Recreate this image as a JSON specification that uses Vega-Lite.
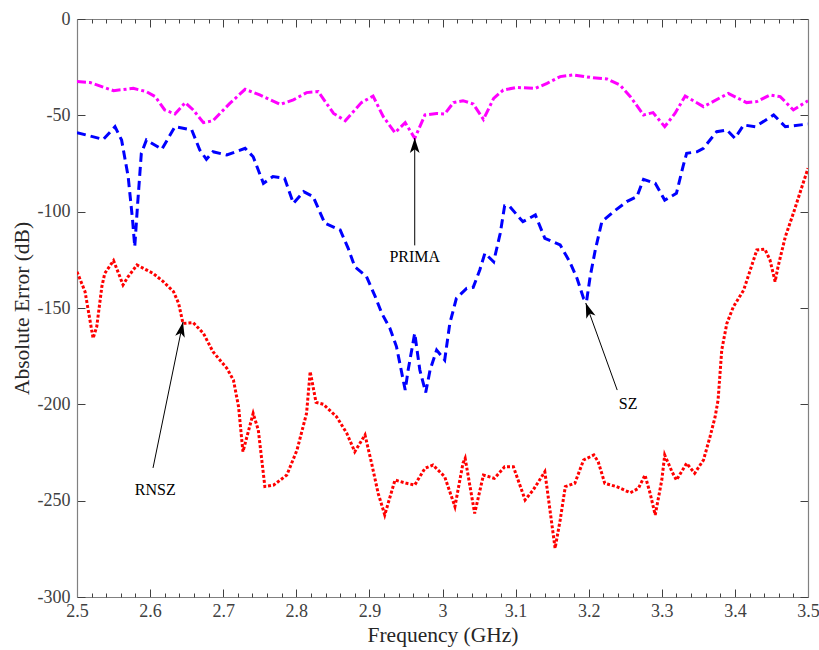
{
  "$schema": "https://vega.github.io/schema/vega-lite/v6.json",
  "width": 731,
  "height": 578,
  "autosize": {"type": "none"},
  "padding": {"left": 77, "top": 19, "right": 11, "bottom": 53},
  "background": "white",
  "config": {
    "view": {"stroke": null},
    "axis": {
      "grid": false,
      "labelFont": "Liberation Serif",
      "labelFontSize": 18,
      "labelColor": "#404040",
      "titleFont": "Liberation Serif",
      "titleFontSize": 21.5,
      "titleFontWeight": "normal",
      "titleColor": "#262626",
      "domainColor": "#808080",
      "tickColor": "#404040",
      "domainWidth": 1.2,
      "tickWidth": 1
    }
  },
  "datasets": {
    "curves": [
      {"s":"PRIMA","f":2.500,"v":-32.5},{"s":"PRIMA","f":2.518,"v":-33},{"s":"PRIMA","f":2.550,"v":-37.2},{"s":"PRIMA","f":2.577,"v":-36},{"s":"PRIMA","f":2.595,"v":-37.7},{"s":"PRIMA","f":2.607,"v":-40.3},{"s":"PRIMA","f":2.620,"v":-47.2},{"s":"PRIMA","f":2.634,"v":-49.3},{"s":"PRIMA","f":2.648,"v":-43.4},{"s":"PRIMA","f":2.659,"v":-47.2},{"s":"PRIMA","f":2.673,"v":-53.8},{"s":"PRIMA","f":2.686,"v":-52.8},{"s":"PRIMA","f":2.709,"v":-43.8},{"s":"PRIMA","f":2.730,"v":-36.5},{"s":"PRIMA","f":2.750,"v":-39.4},{"s":"PRIMA","f":2.778,"v":-44.3},{"s":"PRIMA","f":2.796,"v":-42},{"s":"PRIMA","f":2.814,"v":-38.2},{"s":"PRIMA","f":2.830,"v":-37.7},{"s":"PRIMA","f":2.851,"v":-49},{"s":"PRIMA","f":2.867,"v":-52.8},{"s":"PRIMA","f":2.889,"v":-43.4},{"s":"PRIMA","f":2.905,"v":-40},{"s":"PRIMA","f":2.919,"v":-50.7},{"s":"PRIMA","f":2.935,"v":-59},{"s":"PRIMA","f":2.949,"v":-53.8},{"s":"PRIMA","f":2.962,"v":-61.9},{"s":"PRIMA","f":2.976,"v":-49.8},{"s":"PRIMA","f":2.992,"v":-49},{"s":"PRIMA","f":3.003,"v":-49.3},{"s":"PRIMA","f":3.015,"v":-43.4},{"s":"PRIMA","f":3.028,"v":-42.4},{"s":"PRIMA","f":3.042,"v":-44.1},{"s":"PRIMA","f":3.056,"v":-52.1},{"s":"PRIMA","f":3.070,"v":-41.2},{"s":"PRIMA","f":3.083,"v":-36.9},{"s":"PRIMA","f":3.101,"v":-35.5},{"s":"PRIMA","f":3.127,"v":-36},{"s":"PRIMA","f":3.143,"v":-33.4},{"s":"PRIMA","f":3.161,"v":-29.9},{"s":"PRIMA","f":3.179,"v":-29},{"s":"PRIMA","f":3.202,"v":-30.3},{"s":"PRIMA","f":3.225,"v":-31.1},{"s":"PRIMA","f":3.243,"v":-34.3},{"s":"PRIMA","f":3.257,"v":-40.3},{"s":"PRIMA","f":3.275,"v":-49.8},{"s":"PRIMA","f":3.288,"v":-48.6},{"s":"PRIMA","f":3.304,"v":-55.9},{"s":"PRIMA","f":3.318,"v":-49},{"s":"PRIMA","f":3.332,"v":-40},{"s":"PRIMA","f":3.357,"v":-45.5},{"s":"PRIMA","f":3.370,"v":-42.9},{"s":"PRIMA","f":3.391,"v":-38.6},{"s":"PRIMA","f":3.416,"v":-43.4},{"s":"PRIMA","f":3.430,"v":-42.9},{"s":"PRIMA","f":3.448,"v":-39.4},{"s":"PRIMA","f":3.462,"v":-40.3},{"s":"PRIMA","f":3.480,"v":-47.2},{"s":"PRIMA","f":3.500,"v":-42.4},
      {"s":"SZ","f":2.500,"v":-59},{"s":"SZ","f":2.536,"v":-62.5},{"s":"SZ","f":2.552,"v":-55.9},{"s":"SZ","f":2.561,"v":-62.8},{"s":"SZ","f":2.570,"v":-81.8},{"s":"SZ","f":2.576,"v":-104.3},{"s":"SZ","f":2.579,"v":-118.2},{"s":"SZ","f":2.583,"v":-95.7},{"s":"SZ","f":2.588,"v":-69.7},{"s":"SZ","f":2.595,"v":-62.8},{"s":"SZ","f":2.616,"v":-67.6},{"s":"SZ","f":2.634,"v":-55.9},{"s":"SZ","f":2.657,"v":-57.6},{"s":"SZ","f":2.668,"v":-68},{"s":"SZ","f":2.677,"v":-72.8},{"s":"SZ","f":2.686,"v":-68.9},{"s":"SZ","f":2.705,"v":-70.6},{"s":"SZ","f":2.730,"v":-67.1},{"s":"SZ","f":2.741,"v":-71.5},{"s":"SZ","f":2.755,"v":-85.3},{"s":"SZ","f":2.768,"v":-81.8},{"s":"SZ","f":2.784,"v":-82.7},{"s":"SZ","f":2.796,"v":-95.7},{"s":"SZ","f":2.810,"v":-89.6},{"s":"SZ","f":2.823,"v":-92.2},{"s":"SZ","f":2.839,"v":-106},{"s":"SZ","f":2.860,"v":-109.5},{"s":"SZ","f":2.871,"v":-119},{"s":"SZ","f":2.880,"v":-128.6},{"s":"SZ","f":2.896,"v":-133.7},{"s":"SZ","f":2.908,"v":-144.1},{"s":"SZ","f":2.917,"v":-152.8},{"s":"SZ","f":2.928,"v":-160.5},{"s":"SZ","f":2.937,"v":-170},{"s":"SZ","f":2.949,"v":-192.6},{"s":"SZ","f":2.953,"v":-182.2},{"s":"SZ","f":2.962,"v":-163.1},{"s":"SZ","f":2.969,"v":-182.2},{"s":"SZ","f":2.977,"v":-193.9},{"s":"SZ","f":2.983,"v":-182.2},{"s":"SZ","f":2.992,"v":-171.8},{"s":"SZ","f":3.003,"v":-177},{"s":"SZ","f":3.010,"v":-158},{"s":"SZ","f":3.019,"v":-145},{"s":"SZ","f":3.033,"v":-139.8},{"s":"SZ","f":3.042,"v":-139.3},{"s":"SZ","f":3.051,"v":-130.3},{"s":"SZ","f":3.058,"v":-121.6},{"s":"SZ","f":3.070,"v":-126},{"s":"SZ","f":3.079,"v":-111.2},{"s":"SZ","f":3.085,"v":-97},{"s":"SZ","f":3.092,"v":-97.4},{"s":"SZ","f":3.110,"v":-105.2},{"s":"SZ","f":3.127,"v":-101.7},{"s":"SZ","f":3.140,"v":-113.8},{"s":"SZ","f":3.161,"v":-117.3},{"s":"SZ","f":3.174,"v":-126},{"s":"SZ","f":3.184,"v":-134.6},{"s":"SZ","f":3.193,"v":-145},{"s":"SZ","f":3.197,"v":-146.7},{"s":"SZ","f":3.202,"v":-133.7},{"s":"SZ","f":3.209,"v":-119.9},{"s":"SZ","f":3.218,"v":-105.2},{"s":"SZ","f":3.234,"v":-100},{"s":"SZ","f":3.252,"v":-94.8},{"s":"SZ","f":3.266,"v":-92.2},{"s":"SZ","f":3.275,"v":-83.2},{"s":"SZ","f":3.291,"v":-85.3},{"s":"SZ","f":3.304,"v":-94},{"s":"SZ","f":3.320,"v":-90.5},{"s":"SZ","f":3.329,"v":-76.6},{"s":"SZ","f":3.334,"v":-69.7},{"s":"SZ","f":3.348,"v":-68.9},{"s":"SZ","f":3.357,"v":-67.1},{"s":"SZ","f":3.375,"v":-58.5},{"s":"SZ","f":3.389,"v":-57.6},{"s":"SZ","f":3.400,"v":-61.9},{"s":"SZ","f":3.412,"v":-55},{"s":"SZ","f":3.428,"v":-55.9},{"s":"SZ","f":3.453,"v":-49.8},{"s":"SZ","f":3.469,"v":-55.9},{"s":"SZ","f":3.500,"v":-54.5},
      {"s":"RNSZ","f":2.500,"v":-131.2},{"s":"RNSZ","f":2.511,"v":-141.5},{"s":"RNSZ","f":2.522,"v":-165.7},{"s":"RNSZ","f":2.527,"v":-159.7},{"s":"RNSZ","f":2.534,"v":-138.9},{"s":"RNSZ","f":2.538,"v":-132},{"s":"RNSZ","f":2.550,"v":-125.4},{"s":"RNSZ","f":2.563,"v":-138},{"s":"RNSZ","f":2.570,"v":-133.7},{"s":"RNSZ","f":2.582,"v":-127.7},{"s":"RNSZ","f":2.604,"v":-132},{"s":"RNSZ","f":2.618,"v":-136.3},{"s":"RNSZ","f":2.632,"v":-141.5},{"s":"RNSZ","f":2.639,"v":-147.6},{"s":"RNSZ","f":2.645,"v":-158},{"s":"RNSZ","f":2.659,"v":-157.6},{"s":"RNSZ","f":2.673,"v":-163.2},{"s":"RNSZ","f":2.686,"v":-172.7},{"s":"RNSZ","f":2.705,"v":-181.3},{"s":"RNSZ","f":2.714,"v":-187.4},{"s":"RNSZ","f":2.721,"v":-201.2},{"s":"RNSZ","f":2.727,"v":-224.6},{"s":"RNSZ","f":2.741,"v":-204.7},{"s":"RNSZ","f":2.748,"v":-213.3},{"s":"RNSZ","f":2.757,"v":-242.7},{"s":"RNSZ","f":2.769,"v":-241.9},{"s":"RNSZ","f":2.787,"v":-236.7},{"s":"RNSZ","f":2.801,"v":-223.7},{"s":"RNSZ","f":2.814,"v":-204.7},{"s":"RNSZ","f":2.819,"v":-183},{"s":"RNSZ","f":2.827,"v":-199},{"s":"RNSZ","f":2.837,"v":-200},{"s":"RNSZ","f":2.855,"v":-206.4},{"s":"RNSZ","f":2.869,"v":-215},{"s":"RNSZ","f":2.880,"v":-224.6},{"s":"RNSZ","f":2.894,"v":-215.9},{"s":"RNSZ","f":2.903,"v":-230.6},{"s":"RNSZ","f":2.912,"v":-246.2},{"s":"RNSZ","f":2.921,"v":-257.4},{"s":"RNSZ","f":2.935,"v":-239.3},{"s":"RNSZ","f":2.951,"v":-241},{"s":"RNSZ","f":2.962,"v":-241.9},{"s":"RNSZ","f":2.976,"v":-233.2},{"s":"RNSZ","f":2.987,"v":-231.5},{"s":"RNSZ","f":3.003,"v":-237.6},{"s":"RNSZ","f":3.017,"v":-253.1},{"s":"RNSZ","f":3.028,"v":-230.6},{"s":"RNSZ","f":3.031,"v":-228},{"s":"RNSZ","f":3.044,"v":-256.6},{"s":"RNSZ","f":3.056,"v":-236.7},{"s":"RNSZ","f":3.071,"v":-238.4},{"s":"RNSZ","f":3.085,"v":-232.4},{"s":"RNSZ","f":3.097,"v":-232.4},{"s":"RNSZ","f":3.113,"v":-249.6},{"s":"RNSZ","f":3.124,"v":-244.5},{"s":"RNSZ","f":3.140,"v":-235},{"s":"RNSZ","f":3.147,"v":-254.8},{"s":"RNSZ","f":3.154,"v":-274.7},{"s":"RNSZ","f":3.161,"v":-260},{"s":"RNSZ","f":3.168,"v":-242.7},{"s":"RNSZ","f":3.181,"v":-241},{"s":"RNSZ","f":3.193,"v":-228.9},{"s":"RNSZ","f":3.207,"v":-226.3},{"s":"RNSZ","f":3.213,"v":-229.8},{"s":"RNSZ","f":3.222,"v":-241},{"s":"RNSZ","f":3.238,"v":-242.7},{"s":"RNSZ","f":3.257,"v":-245.9},{"s":"RNSZ","f":3.268,"v":-243.6},{"s":"RNSZ","f":3.277,"v":-236.7},{"s":"RNSZ","f":3.284,"v":-246.2},{"s":"RNSZ","f":3.291,"v":-257.4},{"s":"RNSZ","f":3.300,"v":-239.3},{"s":"RNSZ","f":3.304,"v":-226.3},{"s":"RNSZ","f":3.314,"v":-235},{"s":"RNSZ","f":3.320,"v":-239.3},{"s":"RNSZ","f":3.334,"v":-230.6},{"s":"RNSZ","f":3.345,"v":-235.8},{"s":"RNSZ","f":3.357,"v":-228.9},{"s":"RNSZ","f":3.366,"v":-216.8},{"s":"RNSZ","f":3.373,"v":-206.4},{"s":"RNSZ","f":3.377,"v":-197.7},{"s":"RNSZ","f":3.382,"v":-171.8},{"s":"RNSZ","f":3.389,"v":-158},{"s":"RNSZ","f":3.398,"v":-149.3},{"s":"RNSZ","f":3.412,"v":-140.7},{"s":"RNSZ","f":3.421,"v":-130.3},{"s":"RNSZ","f":3.430,"v":-119.9},{"s":"RNSZ","f":3.441,"v":-119.5},{"s":"RNSZ","f":3.448,"v":-125.1},{"s":"RNSZ","f":3.455,"v":-136.3},{"s":"RNSZ","f":3.459,"v":-128.6},{"s":"RNSZ","f":3.469,"v":-113},{"s":"RNSZ","f":3.480,"v":-100.8},{"s":"RNSZ","f":3.491,"v":-87.9},{"s":"RNSZ","f":3.500,"v":-77.5}
    ],
    "notes": [
      {"name":"PRIMA","f1":2.962,"v1":-117.5,"f2":2.962,"v2":-61.8,"tf":2.962,"tv":-123.5,"ang":0},
      {"name":"SZ","f1":3.239,"v1":-192.6,"f2":3.196,"v2":-147.4,"tf":3.254,"tv":-200,"ang":340},
      {"name":"RNSZ","f1":2.604,"v1":-233,"f2":2.645,"v2":-157.3,"tf":2.607,"tv":-244.5,"ang":11.6}
    ]
  },
  "resolve": {"axis": {"x": "independent", "y": "independent"}},
  "layer": [
    {
      "data": {"name": "curves"},
      "mark": {"type": "line", "strokeWidth": 3, "strokeCap": "butt", "clip": true},
      "encoding": {
        "x": {"field": "f", "type": "quantitative",
          "scale": {"domain": [2.5, 3.5], "nice": false, "zero": false},
          "axis": {"orient": "bottom", "title": "Frequency (GHz)",
            "values": [2.5, 2.6, 2.7, 2.8, 2.9, 3.0, 3.1, 3.2, 3.3, 3.4, 3.5],
            "labelExpr": "toString(datum.value)", "tickSize": -8, "labelPadding": 13,
            "labelFont": "Liberation Serif", "labelFontSize": 18,
            "titlePadding": 4, "labelFlush": false}},
        "y": {"field": "v", "type": "quantitative",
          "scale": {"domain": [-300, 0], "nice": false, "zero": false},
          "axis": {"orient": "left", "title": "Absolute Error (dB)",
            "values": [0, -50, -100, -150, -200, -250, -300],
            "labelExpr": "toString(datum.value)", "tickSize": -8, "labelPadding": 15,
            "labelFont": "Liberation Serif", "labelFontSize": 18,
            "titlePadding": 4, "labelFlush": false}},
        "color": {"field": "s", "type": "nominal",
          "scale": {"domain": ["PRIMA", "SZ", "RNSZ"], "range": ["#FF00FF", "#0000FF", "#FF0000"]},
          "legend": null},
        "strokeDash": {"field": "s", "type": "nominal",
          "scale": {"domain": ["PRIMA", "SZ", "RNSZ"], "range": [[9, 3, 3, 3], [9, 5], [3, 2]]},
          "legend": null},
        "detail": {"field": "s"}
      }
    },
    {
      "data": {"name": "notes"},
      "mark": {"type": "rule", "color": "#000000", "strokeWidth": 1},
      "encoding": {
        "x": {"field": "f1", "type": "quantitative",
          "scale": {"domain": [2.5, 3.5], "nice": false, "zero": false},
          "axis": {"orient": "top", "title": null, "labels": false,
            "values": [2.5, 2.6, 2.7, 2.8, 2.9, 3.0, 3.1, 3.2, 3.3, 3.4, 3.5], "tickSize": -8}},
        "y": {"field": "v1", "type": "quantitative",
          "scale": {"domain": [-300, 0], "nice": false, "zero": false},
          "axis": {"orient": "right", "title": null, "labels": false,
            "values": [0, -50, -100, -150, -200, -250, -300], "tickSize": -8}},
        "x2": {"field": "f2"},
        "y2": {"field": "v2"}
      }
    },
    {
      "data": {"name": "notes"},
      "mark": {"type": "point", "shape": "M0,0L0.65,2L0,1.5L-0.65,2Z", "filled": true, "color": "#000000", "opacity": 1, "size": 225, "strokeWidth": 0},
      "encoding": {
        "x": {"field": "f2", "type": "quantitative",
          "scale": {"domain": [2.5, 3.5], "nice": false, "zero": false},
          "axis": {"orient": "bottom", "title": null, "labels": false, "domain": false,
            "values": [2.52, 2.54, 2.56, 2.58, 2.62, 2.64, 2.66, 2.68, 2.72, 2.74, 2.76, 2.78, 2.82, 2.84, 2.86, 2.88, 2.92, 2.94, 2.96, 2.98, 3.02, 3.04, 3.06, 3.08, 3.12, 3.14, 3.16, 3.18, 3.22, 3.24, 3.26, 3.28, 3.32, 3.34, 3.36, 3.38, 3.42, 3.44, 3.46, 3.48],
            "tickSize": -4}},
        "y": {"field": "v2", "type": "quantitative",
          "scale": {"domain": [-300, 0], "nice": false, "zero": false}, "axis": null},
        "angle": {"field": "ang", "type": "quantitative", "scale": null}
      }
    },
    {
      "data": {"name": "notes"},
      "mark": {"type": "text", "font": "Liberation Serif", "fontSize": 16, "color": "#000000", "align": "center", "baseline": "middle"},
      "encoding": {
        "x": {"field": "tf", "type": "quantitative",
          "scale": {"domain": [2.5, 3.5], "nice": false, "zero": false},
          "axis": {"orient": "top", "title": null, "labels": false, "domain": false,
            "values": [2.52, 2.54, 2.56, 2.58, 2.62, 2.64, 2.66, 2.68, 2.72, 2.74, 2.76, 2.78, 2.82, 2.84, 2.86, 2.88, 2.92, 2.94, 2.96, 2.98, 3.02, 3.04, 3.06, 3.08, 3.12, 3.14, 3.16, 3.18, 3.22, 3.24, 3.26, 3.28, 3.32, 3.34, 3.36, 3.38, 3.42, 3.44, 3.46, 3.48],
            "tickSize": -4}},
        "y": {"field": "tv", "type": "quantitative",
          "scale": {"domain": [-300, 0], "nice": false, "zero": false}, "axis": null},
        "text": {"field": "name"}
      }
    }
  ]
}
